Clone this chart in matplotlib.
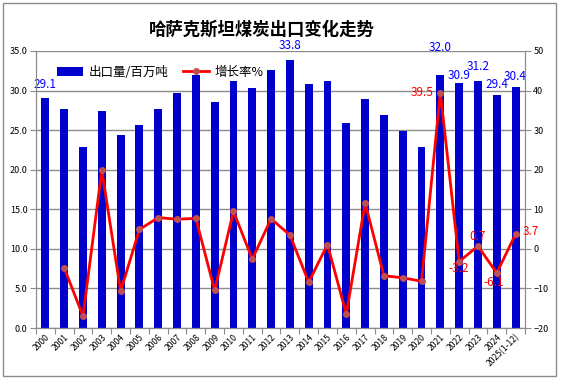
import matplotlib.pyplot as plt
from matplotlib.ticker import FixedLocator, NullFormatter

plt.rcParams["font.family"] = ["Noto Sans CJK SC", "DejaVu Sans"]

# =====================================================================
# DATA
# =====================================================================

years = [
    "2000", "2001", "2002", "2003", "2004", "2005", "2006", "2007",
    "2008", "2009", "2010", "2011", "2012", "2013", "2014", "2015",
    "2016", "2017", "2018", "2019", "2020", "2021", "2022", "2023",
    "2024", "2025(1-12)"
]

export_vol = [
    29.1, 27.7, 22.9, 27.4, 24.4, 25.7, 27.7, 29.7,
    32.0, 28.6, 31.2, 30.3, 32.6, 33.8, 30.8, 31.2,
    25.9, 28.9, 26.9, 24.9, 22.9, 32.0, 30.9, 31.2,
    29.4, 30.4
]

growth = [
    None, -4.8, -17.0, 19.9, -10.7, 4.9, 7.9, 7.5,
    7.7, -10.5, 9.5, -2.6, 7.6, 3.5, -8.4, 1.1,
    -16.5, 11.6, -6.8, -7.3, -8.2, 39.5, -3.2, 0.7,
    -6.1, 3.7
]

# which bars / points carry a value label, with offsets in points
bar_labels = {0: (0, 5), 13: (0, 6), 21: (0, 15), 22: (0, 1),
              23: (0, 6), 24: (0, 3), 25: (0, 3)}
line_labels = {21: (-5, 0, "right"), 22: (0, -5, "center"),
               23: (0, 7, "center"), 24: (-2, -7, "center"),
               25: (5, 2, "left")}

# =====================================================================
# FIGURE
# =====================================================================

fig = plt.figure(figsize=(5.64, 3.84), dpi=100)
fig.patch.set_facecolor("white")

# outer gray border
fig.add_artist(plt.Rectangle(
    (0.006, 0.02), 0.979, 0.972,
    transform=fig.transFigure, fill=False,
    edgecolor="#8c8c8c", linewidth=1.0
))

ax = fig.add_axes([0.0638, 0.1458, 0.867, 0.7214])
ax2 = ax.twinx()

x = list(range(len(years)))

bars = ax.bar(
    x, export_vol, width=0.42,
    color="#0000cc", label="出口量/百万吨", zorder=2
)

gx = [i for i, g in zip(x, growth) if g is not None]
gy = [g for g in growth if g is not None]

line, = ax2.plot(
    gx, gy, color="#ff0000", linewidth=2,
    marker="o", markersize=4,
    markerfacecolor="#c05050", markeredgecolor="#c05050",
    label="增长率%", zorder=3
)

# =========================================================
# AXES
# =========================================================

ax.set_xlim(-0.5, len(years) - 0.5)
ax.set_ylim(0, 35)
ax2.set_ylim(-20, 50)

ax.set_yticks([0, 5, 10, 15, 20, 25, 30, 35])
ax.set_yticklabels([f"{v:.1f}" for v in ax.get_yticks()])
ax2.set_yticks([-20, -10, 0, 10, 20, 30, 40, 50])

ax.yaxis.grid(True, color="#8c8c8c", linewidth=1.0, zorder=0)
ax.set_axisbelow(True)

# category boundary ticks, labels at centres
ax.xaxis.set_major_locator(FixedLocator([i - 0.5 for i in range(len(years) + 1)]))
ax.xaxis.set_major_formatter(NullFormatter())
ax.xaxis.set_minor_locator(FixedLocator(x))
ax.set_xticklabels(years, minor=True, rotation=45, ha="right",
                   rotation_mode="anchor", fontsize=6.2)
ax.tick_params(axis="x", which="minor", length=0, pad=3)
ax.tick_params(axis="x", which="major", length=4, color="#8c8c8c")

ax.tick_params(axis="y", labelsize=6.5, length=4, color="#8c8c8c", pad=2)
ax2.tick_params(axis="y", labelsize=6.5, length=4, color="#8c8c8c", pad=2)

for a in (ax, ax2):
    for side in ("left", "right", "bottom"):
        a.spines[side].set_color("#8c8c8c")
    a.spines["top"].set_visible(False)

# =========================================================
# LABELS
# =========================================================

for i, (dx, dy) in bar_labels.items():
    ax.annotate(
        f"{export_vol[i]:.1f}", (x[i], export_vol[i]),
        xytext=(dx, dy), textcoords="offset points",
        ha="center", va="bottom", color="#0000ff", fontsize=8.5,
        annotation_clip=False
    )

for i, (dx, dy, ha) in line_labels.items():
    ax2.annotate(
        f"{growth[i]:.1f}", (x[i], growth[i]),
        xytext=(dx, dy), textcoords="offset points",
        ha=ha, va="center", color="#ff0000", fontsize=8.5,
        annotation_clip=False
    )

fig.text(0.465, 0.922, "哈萨克斯坦煤炭出口变化走势",
         ha="center", va="center", fontsize=12.5, fontweight="bold")

fig.legend(
    handles=[bars, line], loc="center left",
    bbox_to_anchor=(0.101, 0.812), ncol=2, frameon=False,
    fontsize=9, handlelength=2.1, columnspacing=1.2,
    handletextpad=0.4, borderpad=0, borderaxespad=0
)

fig.savefig("out.png", dpi=100)
plt.close(fig)
